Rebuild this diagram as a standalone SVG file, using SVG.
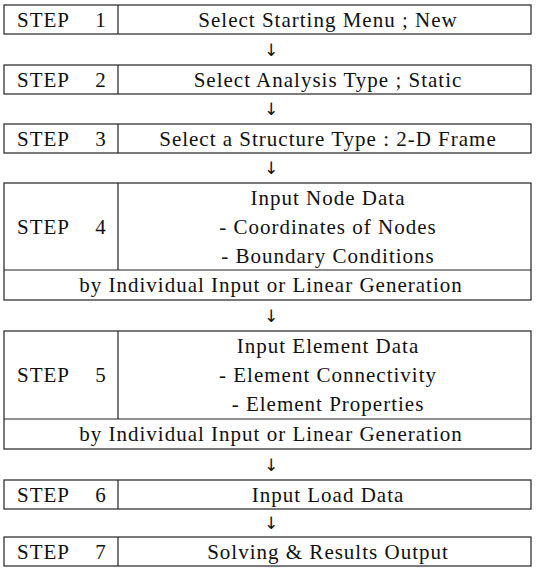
<svg xmlns="http://www.w3.org/2000/svg" width="536" height="569" viewBox="0 0 536 569">
<style>
.box{fill:#fff;stroke:#222;stroke-width:1.2}
.ln{stroke:#222;stroke-width:1.2}
text{font-family:"Liberation Serif","Times New Roman",serif;font-size:21px;letter-spacing:1px;fill:#111}
.c{text-anchor:middle}
.ar{font-family:"DejaVu Sans",sans-serif;font-size:17px;letter-spacing:0;text-anchor:middle}
</style>
<rect width="536" height="569" fill="#fff"/>
<g id="step1">
<rect class="box" x="4" y="5" width="527" height="29"/>
<line class="ln" x1="118" y1="5" x2="118" y2="34"/>
<text x="17" y="27">STEP</text><text class="c" x="101" y="27">1</text>
<text class="c" x="328" y="27">Select Starting Menu ; New</text>
</g>
<g id="step2">
<rect class="box" x="4" y="65" width="527" height="29"/>
<line class="ln" x1="118" y1="65" x2="118" y2="94"/>
<text x="17" y="87">STEP</text><text class="c" x="101" y="87">2</text>
<text class="c" x="328" y="87">Select Analysis Type ; Static</text>
</g>
<g id="step3">
<rect class="box" x="4" y="124" width="527" height="29"/>
<line class="ln" x1="118" y1="124" x2="118" y2="153"/>
<text x="17" y="146">STEP</text><text class="c" x="101" y="146">3</text>
<text class="c" x="328" y="146">Select a Structure Type : 2-D Frame</text>
</g>
<g id="step4">
<rect class="box" x="4" y="183" width="527" height="117"/>
<line class="ln" x1="118" y1="183" x2="118" y2="270"/>
<line class="ln" x1="4" y1="270" x2="531" y2="270"/>
<text x="17" y="234">STEP</text><text class="c" x="101" y="234">4</text>
<text class="c" x="328" y="205">Input Node Data</text>
<text class="c" x="328" y="234">- Coordinates of Nodes</text>
<text class="c" x="328" y="263">- Boundary Conditions</text>
<text class="c" x="271" y="292">by Individual Input or Linear Generation</text>
</g>
<g id="step5">
<rect class="box" x="4" y="331" width="527" height="118"/>
<line class="ln" x1="118" y1="331" x2="118" y2="419"/>
<line class="ln" x1="4" y1="419" x2="531" y2="419"/>
<text x="17" y="382">STEP</text><text class="c" x="101" y="382">5</text>
<text class="c" x="328" y="353">Input Element Data</text>
<text class="c" x="328" y="382">- Element Connectivity</text>
<text class="c" x="328" y="411">- Element Properties</text>
<text class="c" x="271" y="441">by Individual Input or Linear Generation</text>
</g>
<g id="step6">
<rect class="box" x="4" y="480" width="527" height="29"/>
<line class="ln" x1="118" y1="480" x2="118" y2="509"/>
<text x="17" y="502">STEP</text><text class="c" x="101" y="502">6</text>
<text class="c" x="328" y="502">Input Load Data</text>
</g>
<g id="step7">
<rect class="box" x="4" y="537" width="527" height="29"/>
<line class="ln" x1="118" y1="537" x2="118" y2="566"/>
<text x="17" y="559">STEP</text><text class="c" x="101" y="559">7</text>
<text class="c" x="328" y="559">Solving &amp; Results Output</text>
</g>
<g id="connectors">
<text class="ar" x="271" y="56">↓</text>
<text class="ar" x="271" y="115">↓</text>
<text class="ar" x="271" y="174">↓</text>
<text class="ar" x="271" y="322">↓</text>
<text class="ar" x="271" y="471">↓</text>
<text class="ar" x="271" y="529">↓</text>
</g>
</svg>
